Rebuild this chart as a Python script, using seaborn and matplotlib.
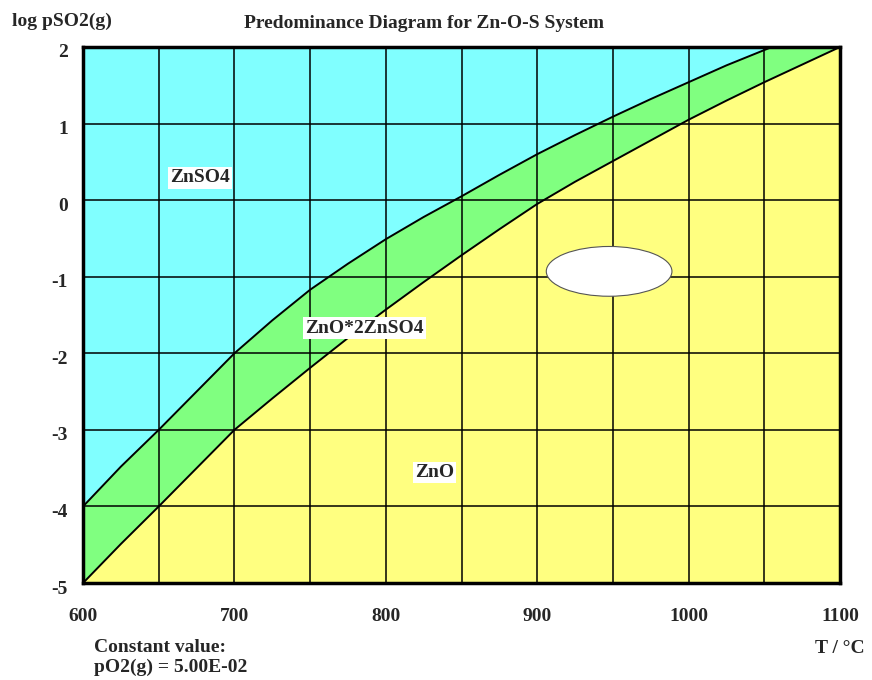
import numpy as np
import seaborn as sns
import matplotlib.pyplot as plt
import matplotlib.transforms as mtransforms
from matplotlib.patches import Ellipse

# boundary ZnSO4 / ZnO*2ZnSO4
upper_T = [600, 625, 650, 675, 700, 725, 750, 775, 800, 825, 850, 875, 900,
           925, 950, 975, 1000, 1025, 1055]
upper_logp = [-4.0, -3.48, -3.0, -2.5, -2.0, -1.57, -1.17, -0.83, -0.51, -0.22,
              0.05, 0.33, 0.60, 0.85, 1.09, 1.32, 1.54, 1.76, 2.0]

# boundary ZnO*2ZnSO4 / ZnO
lower_T = [600, 625, 650, 675, 700, 725, 750, 775, 800, 825, 850, 875, 900,
           925, 950, 975, 1000, 1025, 1050, 1075, 1100]
lower_logp = [-5.0, -4.49, -4.0, -3.5, -3.0, -2.59, -2.19, -1.8, -1.43, -1.07,
              -0.72, -0.38, -0.05, 0.24, 0.51, 0.78, 1.05, 1.3, 1.54, 1.77, 2.0]

x_ticks = [600, 700, 800, 900, 1000, 1100]
y_ticks = [-5, -4, -3, -2, -1, 0, 1, 2]

regions = ["ZnSO4", "ZnO*2ZnSO4", "ZnO"]
region_T = [677, 786, 832]
region_logp = [0.29, -1.67, -3.56]

sns.set_style("white")
plt.rcParams['font.family'] = ['Liberation Serif', 'DejaVu Serif']
plt.rcParams['font.weight'] = 'bold'
plt.rcParams['axes.unicode_minus'] = False

fs = 14

fig = plt.figure(figsize=(8.72, 6.8), dpi=100)
ax = fig.add_axes([0.0952, 0.1426, 0.8681, 0.7883])

xmin, xmax, ymin, ymax = 600, 1100, -5, 2

# regions
ax.fill(np.concatenate([upper_T, [xmin]]), np.concatenate([upper_logp, [ymax]]),
        color="#80ffff", lw=0, zorder=0)
ax.fill(np.concatenate([upper_T, [xmax], lower_T[::-1]]),
        np.concatenate([upper_logp, [ymax], lower_logp[::-1]]),
        color="#80ff80", lw=0, zorder=0)
ax.fill(np.concatenate([lower_T, [xmax, xmin]]),
        np.concatenate([lower_logp, [ymin, ymin]]),
        color="#ffff80", lw=0, zorder=0)

sns.lineplot(x=upper_T, y=upper_logp, sort=False, color="black", lw=1.4, ax=ax, zorder=3)
sns.lineplot(x=lower_T, y=lower_logp, sort=False, color="black", lw=1.4, ax=ax, zorder=3)

ax.set_xlim(xmin, xmax)
ax.set_ylim(ymin, ymax)
ax.set_xticks(x_ticks)
ax.set_xticks(np.arange(650, 1100, 100), minor=True)
ax.set_yticks(y_ticks)
ax.grid(which="both", color="black", lw=1.1, zorder=1)
ax.set_axisbelow(False)
ax.tick_params(which="both", length=0, labelsize=fs)
ax.tick_params(axis="x", pad=18)
ax.tick_params(axis="y", pad=11)
shift = mtransforms.ScaledTranslation(0, -4 / 100, fig.dpi_scale_trans)
for lab in ax.get_yticklabels():
    lab.set_transform(lab.get_transform() + shift)
for lab in ax.get_xticklabels() + ax.get_yticklabels():
    lab.set_fontweight("bold")
for sp in ax.spines.values():
    sp.set_visible(True)
    sp.set_color("black")
    sp.set_linewidth(2.5)
    sp.set_zorder(5)

ax.add_patch(Ellipse((947.5, -0.93), 83, 0.65, facecolor="white",
                     edgecolor="#555555", lw=0.8, zorder=4))

for name, t, p in zip(regions, region_T, region_logp):
    ax.text(t, p, name, ha="center", va="center", fontsize=fs, fontweight="bold",
            zorder=6, bbox=dict(facecolor="white", edgecolor="none", pad=1.5))

fig.text(0.0705, 0.968, "log pSO2(g)", ha="center", va="center", fontsize=fs, fontweight="bold")
fig.text(0.486, 0.966, "Predominance Diagram for Zn-O-S System", ha="center", va="center",
         fontsize=fs, fontweight="bold")
fig.text(0.963, 0.047, "T / \u00b0C", ha="center", va="center", fontsize=fs, fontweight="bold")
fig.text(0.108, 0.033, "Constant value:\npO2(g) = 5.00E-02", ha="left", va="center",
         fontsize=fs, fontweight="bold", linespacing=1.25)

fig.savefig("out.png", dpi=100)
